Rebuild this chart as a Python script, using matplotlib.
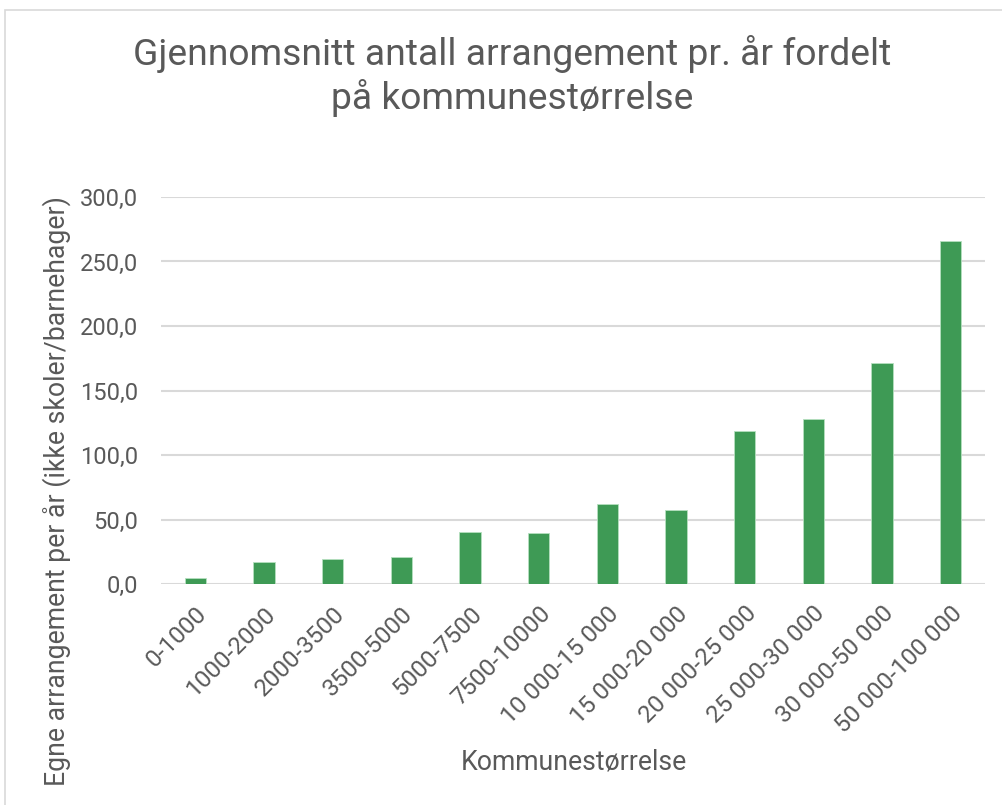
import matplotlib.pyplot as plt
from matplotlib.patches import Rectangle

plt.rcParams['font.family'] = ['Roboto', 'DejaVu Sans']

# kategorier og verdier
kategorier = ['0-1000', '1000-2000', '2000-3500', '3500-5000', '5000-7500',
              '7500-10000', '10 000-15 000', '15 000-20 000', '20 000-25 000',
              '25 000-30 000', '30 000-50 000', '50 000-100 000']
verdier = [4.4, 17.4, 19.2, 20.8, 40.3, 39.7, 62.4, 57.4, 118.6, 128.2, 171.0, 266.2]
yticks = [0, 50, 100, 150, 200, 250, 300]

tekstfarge = '#595959'
gronn = '#3e9a55'

fig = plt.figure(figsize=(10.03, 8.05), dpi=100)
ax = fig.add_axes([0.1605, 0.2745, 0.8215, 0.4808])

# ramme rundt diagrammet
fig.patches.append(Rectangle((5 / 1003, -0.1), 1.2, 1 - 10 / 805 + 0.1,
                             transform=fig.transFigure, fill=False,
                             edgecolor='#d9d9d9', linewidth=1.2))

x = range(len(kategorier))
ax.bar(x, verdier, width=0.31, color=gronn, edgecolor='#b5e0bf', linewidth=0.6, zorder=3)

ax.set_xlim(-0.5, len(kategorier) - 0.5)
ax.set_ylim(0, 300)
ax.set_yticks(yticks)
ax.set_yticklabels([f'{v:.1f}'.replace('.', ',') for v in yticks], fontsize=17, color=tekstfarge)
ax.set_xticks(list(x))
ax.set_xticklabels(kategorier, rotation=45, ha='right', rotation_mode='anchor',
                   fontsize=17.5, color=tekstfarge)
ax.tick_params(axis='both', length=0)
ax.tick_params(axis='y', pad=16.5)
ax.tick_params(axis='x', pad=13)
ax.grid(axis='y', color='#d9d9d9', linewidth=1.5, zorder=0)
for s in ax.spines.values():
    s.set_visible(False)

fig.text(0.511, 1 - 76 / 805, 'Gjennomsnitt antall arrangement pr. år fordelt\npå kommunestørrelse',
         ha='center', va='center', fontsize=26.8, color=tekstfarge, linespacing=1.2)
fig.text(57 / 1003, 1 - 491 / 805, 'Egne arrangement per år (ikke skoler/barnehager)',
         rotation=90, ha='center', va='center', fontsize=19.2, color=tekstfarge)
fig.text(574 / 1003, 1 - 762 / 805, 'Kommunestørrelse', ha='center', va='center',
         fontsize=19.2, color=tekstfarge)

fig.savefig('out.png', dpi=100)
